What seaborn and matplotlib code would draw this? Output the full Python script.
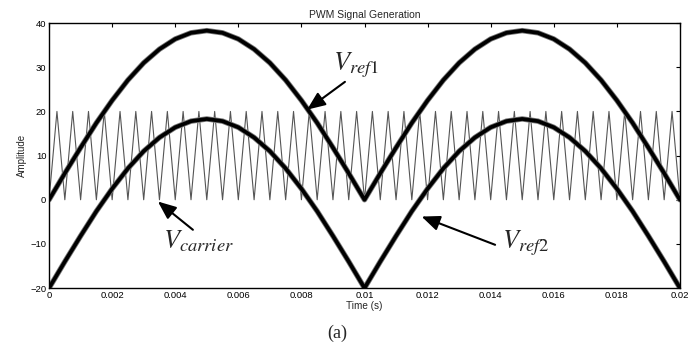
import numpy as np
import pandas as pd
import seaborn as sns
import matplotlib
matplotlib.use("Agg")
import matplotlib.pyplot as plt

# === values ===
# reference waveforms sampled every 0.5 ms over 0..20 ms
ref_t = np.linspace(0, 0.02, 41)
vref1 = [0.0, 6.0, 11.8, 17.4, 22.5, 27.1, 31.0, 34.1, 36.4, 37.8, 38.3,
         37.8, 36.4, 34.1, 31.0, 27.1, 22.5, 17.4, 11.8, 6.0, 0.0,
         6.0, 11.8, 17.4, 22.5, 27.1, 31.0, 34.1, 36.4, 37.8, 38.3,
         37.8, 36.4, 34.1, 31.0, 27.1, 22.5, 17.4, 11.8, 6.0, 0.0]
vref2 = [-20.0, -14.0, -8.2, -2.6, 2.5, 7.1, 11.0, 14.1, 16.4, 17.8, 18.3,
         17.8, 16.4, 14.1, 11.0, 7.1, 2.5, -2.6, -8.2, -14.0, -20.0,
         -14.0, -8.2, -2.6, 2.5, 7.1, 11.0, 14.1, 16.4, 17.8, 18.3,
         17.8, 16.4, 14.1, 11.0, 7.1, 2.5, -2.6, -8.2, -14.0, -20.0]

# triangular carrier: 40 cycles between 0 and 20
carrier_levels = [0, 20]
carrier_cycles = 40
carrier_v = carrier_levels * carrier_cycles + [carrier_levels[0]]
carrier_t = np.linspace(0, 0.02, len(carrier_v))

x_ticks = [0, 0.002, 0.004, 0.006, 0.008, 0.01, 0.012, 0.014, 0.016, 0.018, 0.02]
x_labels = ["0", "0.002", "0.004", "0.006", "0.008", "0.01",
            "0.012", "0.014", "0.016", "0.018", "0.02"]
y_ticks = [-20, -10, 0, 10, 20, 30, 40]

df_ref = pd.concat([
    pd.DataFrame({"t": ref_t, "v": vref1, "sig": "ref1"}),
    pd.DataFrame({"t": ref_t, "v": vref2, "sig": "ref2"}),
])
df_car = pd.DataFrame({"t": carrier_t, "v": carrier_v})

# === plot ===
sns.set_theme(style="white")
plt.rcParams["font.family"] = ["Liberation Sans", "DejaVu Sans"]
plt.rcParams["mathtext.fontset"] = "stix"

fig = plt.figure(figsize=(6.91, 3.45), dpi=100)
ax = fig.add_axes([0.071, 0.165, 0.913, 0.768])

sns.lineplot(data=df_car, x="t", y="v", color="#555555", lw=0.8, ax=ax,
             estimator=None, sort=False)
# soft halo + dark core to mimic the rippled, blurred band
sns.lineplot(data=df_ref, x="t", y="v", units="sig", color="#777777", lw=3.9,
             ax=ax, estimator=None, sort=False)
sns.lineplot(data=df_ref, x="t", y="v", units="sig", color="black", lw=2.7,
             ax=ax, estimator=None, sort=False)

ax.set_xlim(0, 0.02)
ax.set_ylim(-20, 40)
ax.set_xticks(x_ticks)
ax.set_xticklabels(x_labels)
ax.set_yticks(y_ticks)
ax.tick_params(direction="in", length=3, width=0.8, labelsize=6.8,
               top=True, right=True, colors="black", pad=2)
for s in ax.spines.values():
    s.set_color("black")
    s.set_linewidth(1.0)

ax.set_title("PWM Signal Generation", fontsize=7.5, pad=4)
ax.set_xlabel("Time (s)", fontsize=7.2, labelpad=1)
ax.set_ylabel("Amplitude", fontsize=7, labelpad=2)

arrow = dict(arrowstyle="-|>,head_length=0.55,head_width=0.23",
             mutation_scale=20, lw=1.5, color="black", shrinkA=0, shrinkB=0)
ax.annotate("", xy=(0.00818, 20.4), xytext=(0.00938, 26.7), arrowprops=arrow)
ax.annotate("", xy=(0.00345, -0.4), xytext=(0.00456, -6.8), arrowprops=arrow)
ax.annotate("", xy=(0.01181, -3.8), xytext=(0.01414, -10.2), arrowprops=arrow)

ax.text(0.0090, 29.4, r"$V_{ref1}$", fontsize=19, ha="left", va="baseline")
ax.text(0.00361, -11.1, r"$V_{carrier}$", fontsize=19, ha="left", va="baseline")
ax.text(0.01436, -11.1, r"$V_{ref2}$", fontsize=19, ha="left", va="baseline")

fig.text(337 / 691, 1 - 333 / 345, "(a)", fontsize=13, ha="center", va="center",
         family=["Liberation Serif", "DejaVu Serif"])

fig.savefig("out.png", dpi=100)
